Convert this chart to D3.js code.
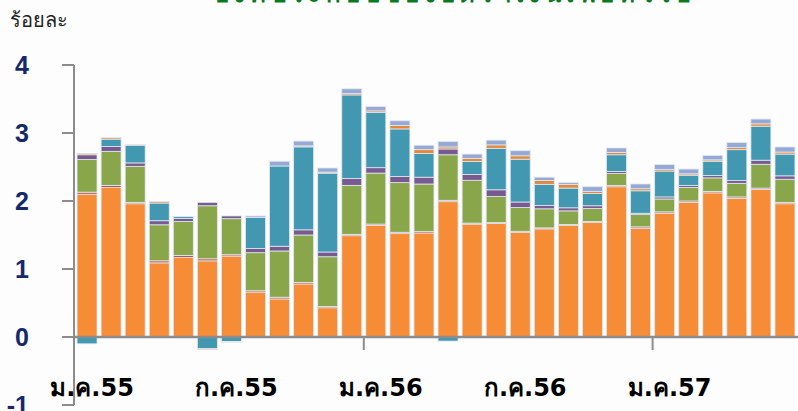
<!DOCTYPE html>
<html>
<head>
<meta charset="utf-8">
<script src="https://cdn.jsdelivr.net/npm/d3@7"></script>
<style>
  body { margin: 0; background: #fdfdfd; }
  svg { display: block; }
</style>
</head>
<body>
<div id="chart"></div>
<script>
// months Jan 2012 .. Jun 2014 (Thai years 55-57)
var months = d3.range(30);
var tickLabels = ["ม.ค.55", "ก.ค.55", "ม.ค.56", "ก.ค.56", "ม.ค.57"];
var tickIndex = [0, 6, 12, 18, 24];
var yTicks = [4, 3, 2, 1, 0, -1];

var sOrange  = [2.10, 2.20, 1.96, 1.09, 1.17, 1.12, 1.19, 0.66, 0.56, 0.78, 0.43, 1.49,
                1.64, 1.52, 1.53, 1.99, 1.66, 1.67, 1.54, 1.59, 1.64, 1.685, 2.21, 1.60,
                1.82, 1.98, 2.12, 2.04, 2.17, 1.96];
var sRed     = [0.03, 0.03, 0.02, 0.03, 0.03, 0.03, 0.02, 0.02, 0.025, 0.02, 0.02, 0.02,
                0.02, 0.02, 0.02, 0.02, 0.015, 0.015, 0.015, 0.015, 0.015, 0.015, 0.02, 0.02,
                0.02, 0.02, 0.02, 0.02, 0.02, 0.02];
var sGreen   = [0.48, 0.50, 0.53, 0.53, 0.50, 0.78, 0.53, 0.56, 0.68, 0.70, 0.73, 0.72,
                0.75, 0.73, 0.70, 0.67, 0.63, 0.38, 0.35, 0.28, 0.20, 0.19, 0.175, 0.18,
                0.19, 0.20, 0.20, 0.20, 0.35, 0.34];
var sPurple  = [0.07, 0.07, 0.05, 0.06, 0.045, 0.05, 0.04, 0.06, 0.07, 0.076, 0.07, 0.10,
                0.08, 0.09, 0.10, 0.085, 0.085, 0.10, 0.08, 0.05, 0.045, 0.04, 0.03, 0.02,
                0.03, 0.03, 0.035, 0.04, 0.06, 0.05];
var sTeal    = [-0.10, 0.11, 0.26, 0.26, 0.025, -0.17, -0.065, 0.46, 1.18, 1.22, 1.16, 1.23,
                0.81, 0.70, 0.35, -0.06, 0.19, 0.61, 0.63, 0.31, 0.29, 0.18, 0.245, 0.33,
                0.38, 0.15, 0.21, 0.455, 0.50, 0.32];
var sOrange2 = [0.02, 0.02, 0.01, 0.02, 0, -0.015, -0.01, 0, 0, 0.015, 0.015, 0.02,
                0.025, 0.05, 0.055, 0.03, 0.045, 0.05, 0.05, 0.055, 0.055, 0.03, 0.035, 0.03,
                0.025, 0.02, 0.02, 0.03, 0.035, 0.03];
var sBlue    = [0, 0, 0, 0, 0, 0, 0, 0.02, 0.07, 0.07, 0.06, 0.07,
                0.065, 0.07, 0.065, 0.08, 0.065, 0.07, 0.075, 0.05, 0.025, 0.07, 0.065, 0.07,
                0.07, 0.07, 0.065, 0.075, 0.07, 0.075];

var keys = ["orange", "red", "green", "purple", "teal", "orange2", "blue"];
var colors = ["#f68d36", "#c0504d", "#8aa64b", "#775a8f", "#4298b0", "#e3893a", "#96a9d4"];

var rows = months.map(function(i) {
    return {orange: sOrange[i], red: sRed[i], green: sGreen[i], purple: sPurple[i],
            teal: sTeal[i], orange2: sOrange2[i], blue: sBlue[i], i: i};
});

var W = 798, H = 411;
var svg = d3.select("#chart").append("svg")
    .attr("width", W).attr("height", H);

var x = d3.scaleBand().domain(months).range([75, 797])
    .paddingInner(0.17).paddingOuter(0.085);
var y = d3.scaleLinear().domain([-1, 4]).range([405, 65]);

var series = d3.stack().keys(keys).offset(d3.stackOffsetDiverging)(rows);

// title is cut off by the top edge in the original
svg.append("text")
    .attr("x", 452).attr("y", 2)
    .attr("text-anchor", "middle")
    .attr("textLength", 475)
    .style("font-family", "Tahoma, 'DejaVu Sans', sans-serif")
    .style("font-size", "24px").style("font-weight", "bold")
    .style("fill", "#0a7a1e")
    .text("องค์ประกอบของอัตราเงินเฟ้อทั่วไป");

svg.append("text")
    .attr("x", 10).attr("y", 27)
    .style("font-family", "'DejaVu Sans', sans-serif")
    .style("font-size", "20px")
    .style("fill", "#222")
    .text("ร้อยละ");

var g = svg.append("g");
g.selectAll("g.s")
    .data(series)
    .enter().append("g")
    .attr("fill", function(d, k) { return colors[k]; })
    .selectAll("rect")
    .data(function(d) { return d; })
    .enter().append("rect")
    .attr("x", function(d) { return x(d.data.i); })
    .attr("width", x.bandwidth())
    .attr("y", function(d) { return y(Math.max(d[0], d[1])); })
    .attr("height", function(d) { return Math.abs(y(d[0]) - y(d[1])); })
    .attr("stroke", "#e2e8f1")
    .attr("stroke-width", 0.8);

// y axis
var yAxis = svg.append("g");
yAxis.append("line")
    .attr("x1", 74).attr("x2", 74)
    .attr("y1", y(4)).attr("y2", y(-1))
    .attr("stroke", "#8c8c8c").attr("stroke-width", 2);
yAxis.selectAll("line.t")
    .data(yTicks).enter().append("line")
    .attr("x1", 62).attr("x2", 74)
    .attr("y1", function(d) { return y(d); })
    .attr("y2", function(d) { return y(d); })
    .attr("stroke", "#8c8c8c").attr("stroke-width", 2);
yAxis.selectAll("text")
    .data(yTicks).enter().append("text")
    .attr("x", 29)
    .attr("y", function(d) { return y(d) + 9; })
    .attr("text-anchor", "end")
    .style("font-family", "'Liberation Sans', Arial, sans-serif")
    .style("font-size", "25px").style("font-weight", "bold")
    .style("fill", "#13296b")
    .text(function(d) { return d; });

// x axis
svg.append("line")
    .attr("x1", 74).attr("x2", 798)
    .attr("y1", y(0)).attr("y2", y(0))
    .attr("stroke", "#8c8c8c").attr("stroke-width", 2.5);
svg.selectAll("line.xt")
    .data([12, 24]).enter().append("line")
    .attr("x1", function(d) { return x(d) - x.step() * x.paddingInner() / 2; })
    .attr("x2", function(d) { return x(d) - x.step() * x.paddingInner() / 2; })
    .attr("y1", y(0)).attr("y2", y(0) + 13)
    .attr("stroke", "#8c8c8c").attr("stroke-width", 2);
svg.selectAll("text.xl")
    .data(tickIndex).enter().append("text")
    .attr("x", function(d) { return x(d) + x.bandwidth() / 2 + 5; })
    .attr("y", 396)
    .attr("text-anchor", "middle")
    .style("font-family", "'DejaVu Sans', sans-serif")
    .style("font-size", "24px").style("font-weight", "bold")
    .style("fill", "#000")
    .text(function(d, k) { return tickLabels[k]; });
</script>
</body>
</html>
